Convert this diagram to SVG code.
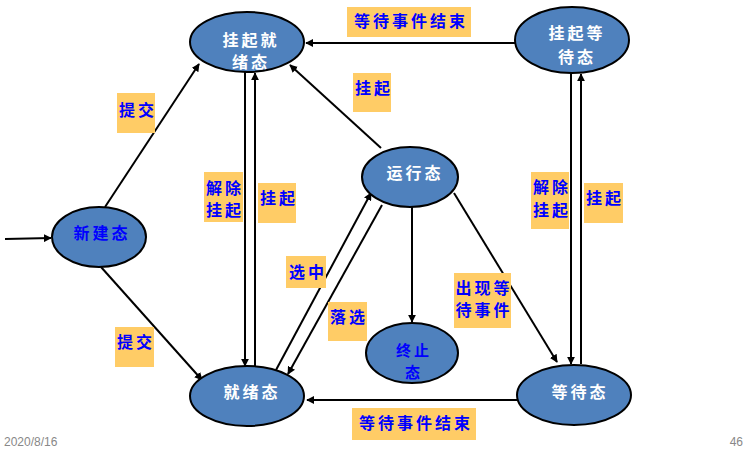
<svg xmlns="http://www.w3.org/2000/svg" width="745" height="455" viewBox="0 0 745 455">
<defs>
<marker id="arr" viewBox="0 0 10 10" refX="9" refY="5" markerWidth="4" markerHeight="4" orient="auto" markerUnits="strokeWidth">
<path d="M0,0 L10,5 L0,10 z" fill="#000"/>
</marker>
<style>
.node ellipse{fill:#4F81BD;stroke:#000;stroke-width:2}
.nt{font-family:"Noto Sans CJK SC","Liberation Serif",serif;font-size:16px;font-weight:bold;fill:#fff;text-anchor:middle;letter-spacing:3px}
.nt.blue{fill:#0000FF}
.nt.sm{font-size:15px}
.lbl rect{fill:#FFCC66}
.lt{font-family:"Noto Sans CJK SC","Liberation Serif",serif;font-size:16px;font-weight:bold;fill:#0000FF;text-anchor:middle;letter-spacing:3px}
.edges line{stroke:#000;stroke-width:2;marker-end:url(#arr)}
.foot{font-family:"Liberation Sans",sans-serif;font-size:12px;fill:#888}
</style>
</defs>
<rect width="745" height="455" fill="#fff"/>

<g class="edges">
<line x1="5" y1="239" x2="51" y2="238"/>
<line x1="105" y1="207" x2="199" y2="64"/>
<line x1="101" y1="267" x2="202" y2="380"/>
<line x1="245" y1="72" x2="245" y2="366"/>
<line x1="255" y1="366" x2="255" y2="73"/>
<line x1="381" y1="148" x2="290" y2="65"/>
<line x1="515" y1="43" x2="306" y2="43"/>
<line x1="276" y1="370" x2="371" y2="193"/>
<line x1="382" y1="205" x2="288" y2="374"/>
<line x1="412" y1="207" x2="412" y2="322"/>
<line x1="454" y1="193" x2="557" y2="362"/>
<line x1="571" y1="73" x2="571" y2="364"/>
<line x1="581" y1="364" x2="581" y2="74"/>
<line x1="518" y1="400" x2="307" y2="400"/>
</g>

<g id="n_gqjx" class="node"><ellipse cx="247" cy="42" rx="57" ry="30"/><text class="nt" x="251" y="46">挂起就</text><text class="nt" x="251" y="68">绪态</text></g>
<g id="n_gqdd" class="node"><ellipse cx="572" cy="40" rx="57" ry="33"/><text class="nt" x="577" y="39">挂起等</text><text class="nt" x="577" y="63">待态</text></g>
<g id="n_xj" class="node"><ellipse cx="99" cy="237" rx="47" ry="30"/><text class="nt blue" x="102" y="239">新建态</text></g>
<g id="n_yx" class="node"><ellipse cx="410" cy="177" rx="48" ry="30"/><text class="nt" x="415" y="179">运行态</text></g>
<g id="n_zz" class="node"><ellipse cx="412" cy="353" rx="46" ry="30"/><text class="nt blue sm" x="414" y="356">终止</text><text class="nt blue sm" x="414" y="378">态</text></g>
<g id="n_jx" class="node"><ellipse cx="247" cy="396" rx="57" ry="30"/><text class="nt" x="252" y="398">就绪态</text></g>
<g id="n_dd" class="node"><ellipse cx="574" cy="395" rx="57" ry="30"/><text class="nt" x="580" y="398">等待态</text></g>

<g id="labels">
<g class="lbl"><rect x="347" y="7" width="124" height="30"/><text class="lt" x="411" y="27">等待事件结束</text></g>
<g class="lbl"><rect x="353" y="73" width="38" height="39"/><text class="lt" x="374" y="94">挂起</text></g>
<g class="lbl"><rect x="117" y="93" width="38" height="40"/><text class="lt" x="138" y="116">提交</text></g>
<g class="lbl"><rect x="115" y="327" width="39" height="40"/><text class="lt" x="136" y="348">提交</text></g>
<g class="lbl"><rect x="204" y="172" width="39" height="50"/><text class="lt" x="225" y="194">解除</text><text class="lt" x="225" y="216">挂起</text></g>
<g class="lbl"><rect x="258" y="183" width="38" height="40"/><text class="lt" x="279" y="204">挂起</text></g>
<g class="lbl"><rect x="286" y="256" width="40" height="32"/><text class="lt" x="308" y="278">选中</text></g>
<g class="lbl"><rect x="328" y="302" width="39" height="39"/><text class="lt" x="349" y="323">落选</text></g>
<g class="lbl"><rect x="454" y="273" width="57" height="55"/><text class="lt" x="484" y="294">出现等</text><text class="lt" x="484" y="316">待事件</text></g>
<g class="lbl"><rect x="531" y="172" width="38" height="57"/><text class="lt" x="552" y="193">解除</text><text class="lt" x="552" y="216">挂起</text></g>
<g class="lbl"><rect x="584" y="183" width="39" height="40"/><text class="lt" x="605" y="204">挂起</text></g>
<g class="lbl"><rect x="352" y="408" width="124" height="32"/><text class="lt" x="416" y="429">等待事件结束</text></g>
</g>

<text class="foot" x="4" y="446">2020/8/16</text>
<text class="foot" x="743" y="446" text-anchor="end">46</text>
</svg>
